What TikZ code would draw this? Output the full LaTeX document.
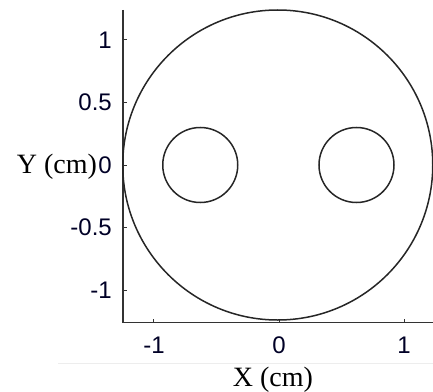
\documentclass[tikz,border=0pt]{standalone}
\usepackage{fontspec}
\setmainfont{Liberation Serif}
\setsansfont{Liberation Sans}
\usetikzlibrary{positioning}

\begin{document}
\begin{tikzpicture}[x=125pt, y=125pt,
    axis/.style={line width=1.8pt, black!80},
    rim/.style={line width=1.5pt, black!85},
    ticklabel/.style={font=\sffamily\fontsize{24}{24}\selectfont, text=black!85!blue, inner sep=0pt},
    axislabel/.style={font=\fontsize{28}{28}\selectfont, inner sep=0pt}]
    \useasboundingbox (-2.232,-1.808) rectangle (1.232,1.32);
    \coordinate (o) at (-1.248,-1.26);
    \coordinate (ytop) at (-1.248,1.24);
    \coordinate (xend) at (1.232,-1.26);
    \coordinate (g1) at (-1.768,-1.584);
    \coordinate (g2) at (1.232,-1.584);

    % faint rule under the x ticks
    \draw [line width=1pt, black!7] (g1) -- (g2);

    % axes
    \draw [axis] (ytop) -- (o) -- (xend);
    \foreach \y in {-1,-0.5,0,0.5,1} {
        \draw [line width=1pt, black!80] (-1.248,\y) -- ++(0.03,0);
    }
    \foreach \x in {-1,0,1} {
        \draw [line width=1pt, black!80] (\x,-1.26) -- ++(0,0.03);
    }

    % tick labels
    \node [ticklabel, anchor=east] (yt1) at (-1.336,1) {1};
    \node [ticklabel, anchor=east] (yt05) at (-1.336,0.5) {0.5};
    \node [ticklabel, anchor=east] (yt0) at (-1.336,0) {0};
    \node [ticklabel, anchor=east] (ytm05) at (-1.336,-0.5) {-0.5};
    \node [ticklabel, anchor=east] (ytm1) at (-1.336,-1) {-1};
    \node [ticklabel] (xtm1) at (-1,-1.44) {-1};
    \node [ticklabel] (xt0) at (0,-1.44) {0};
    \node [ticklabel] (xt1) at (1,-1.44) {1};

    % axis labels
    \node [axislabel, anchor=base east] (ylab) at ([xshift=-1pt]yt0.base west) {Y (cm)};
    \node [axislabel, anchor=base] (xlab) at (-0.048,-1.768) {X (cm)};

    % cross-section
    \draw [rim] (-0.01,0) circle [radius=1.24];
    \draw [rim] (-0.63,0) circle [radius=0.30];
    \draw [rim] (0.62,0) circle [radius=0.30];
\end{tikzpicture}
\end{document}
